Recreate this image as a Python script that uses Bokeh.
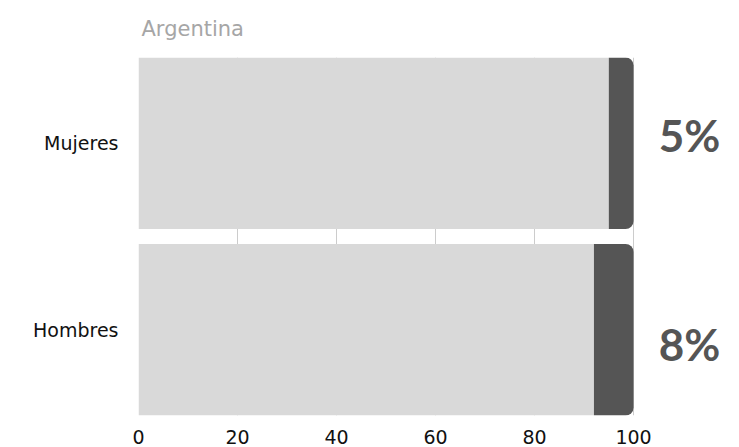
from bokeh.plotting import figure
from bokeh.models import Range1d, FixedTicker, Grid, ColumnDataSource
from bokeh.core.properties import value
from bokeh.embed import file_html
from bokeh.resources import INLINE

categories = ["Hombres", "Mujeres"]
share = [8, 5]
total = [100, 100]
x_ticks = [0, 20, 40, 60, 80, 100]
title_text = "Argentina"

FONT = "DejaVu Sans"
BIG_FONT = "Lato"
ypos = list(range(len(categories)))
rest = [t - s for t, s in zip(total, share)]
src = ColumnDataSource(dict(
    y=ypos, rest=rest, total=total, share=share,
    label=[f"{s}%" for s in share],
    yoff=[14, -8],
))

p = figure(width=739, height=447, output_backend="svg", toolbar_location=None,
           x_range=Range1d(0, 121.4), y_range=Range1d(-0.46, 1.46),
           min_border_left=138, min_border_right=0, min_border_top=57, min_border_bottom=32,
           title=title_text)
p.outline_line_color = None
p.background_fill_color = "white"

p.hbar(y="y", left=0, right="rest", height=0.92, source=src,
       fill_color="#d9d9d9", line_color=None)
p.hbar(y="y", left="rest", right="total", height=0.92, source=src,
       fill_color="#555555", line_color=None, border_radius=[0, 8, 8, 0])
p.text(x="total", y="y", text="label", source=src, x_offset=56, y_offset="yoff",
       text_align="center", text_baseline="middle", text_font=value(BIG_FONT),
       text_font_style="bold", text_font_size="44px", text_color="#555555")

p.xgrid.ticker = FixedTicker(ticks=[20, 40, 60, 80, 100])
p.xgrid.grid_line_color = "#cccccc"
p.ygrid.visible = False
zero_grid = Grid(dimension=0, ticker=FixedTicker(ticks=[0]), grid_line_color="#555555")
p.add_layout(zero_grid)

p.xaxis.ticker = FixedTicker(ticks=x_ticks)
p.yaxis.ticker = FixedTicker(ticks=ypos)
p.yaxis.major_label_overrides = {i: c for i, c in zip(ypos, categories)}
for ax in (p.xaxis[0], p.yaxis[0]):
    ax.axis_line_color = None
    ax.major_tick_line_color = None
    ax.minor_tick_line_color = None
    ax.major_tick_out = 0
    ax.major_tick_in = 0
    ax.major_label_text_font = FONT
    ax.major_label_text_font_size = "19px"
    ax.major_label_text_color = "#111111"
p.xaxis.major_label_standoff = 14
p.yaxis.major_label_standoff = 20

p.title.text_font = FONT
p.title.text_font_size = "21px"
p.title.text_font_style = "normal"
p.title.text_color = "#a6a6a6"
p.title.align = "left"
p.title.vertical_align = "top"
p.title.offset = 3
p.title.standoff = 30

open("out.html", "w").write(file_html(p, INLINE))
